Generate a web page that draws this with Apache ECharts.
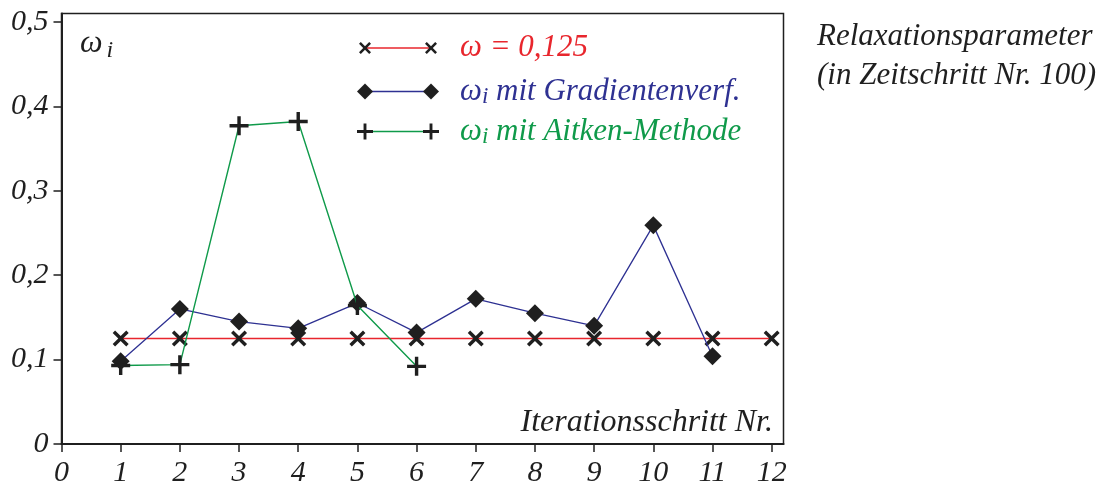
<!DOCTYPE html>
<html>
<head>
<meta charset="utf-8">
<script src="https://cdn.jsdelivr.net/npm/echarts@6/dist/echarts.min.js"></script>
<style>
html,body{margin:0;padding:0;background:#fff;}
#chart{width:1109px;height:488px;}
</style>
</head>
<body>
<div id="chart"></div>
<script>
// ---- data ----
var steps = [1,2,3,4,5,6,7,8,9,10,11,12];
var omegaConst = [0.125,0.125,0.125,0.125,0.125,0.125,0.125,0.125,0.125,0.125,0.125,0.125];
var gradSteps = [1,2,3,4,5,6,7,8,9,10,11];
var omegaGrad = [0.098,0.160,0.145,0.137,0.167,0.132,0.172,0.155,0.140,0.259,0.104];
var aitkenSteps = [1,2,3,4,5,6];
var omegaAitken = [0.093,0.094,0.377,0.382,0.164,0.092];
var xTicks = [0,1,2,3,4,5,6,7,8,9,10,11,12];
var yTicks = [0,0.1,0.2,0.3,0.4,0.5];
var yTickLabels = ['0','0,1','0,2','0,3','0,4','0,5'];
var legendNames = ['ω = 0,125', 'ω{sub|i} mit Gradientenverf.', 'ω{sub|i} mit Aitken-Methode'];
var seriesColors = ['#e8262d', '#2e3192', '#0f9a4a'];

var FONT = '"Liberation Serif","Times New Roman",serif';
var INK = '#1f1f1f';
// marker outlines in a 10x10 box
var XPTS = [[0,1.5],[1.5,0],[5,3.5],[8.5,0],[10,1.5],[6.5,5],[10,8.5],[8.5,10],[5,6.5],[1.5,10],[0,8.5],[3.5,5]];
var PPTS = [[4.1,0],[5.9,0],[5.9,4.1],[10,4.1],[10,5.9],[5.9,5.9],[5.9,10],[4.1,10],[4.1,5.9],[0,5.9],[0,4.1],[4.1,4.1]];
var DPTS = [[5,0],[10,5],[5,10],[0,5]];
var shapes = [XPTS, DPTS, PPTS];
function toPath(pts){ return 'path://M' + pts.map(function(p){return p[0]+','+p[1];}).join(' L') + ' Z'; }
var symbolSizes = [16, 18, 19];
var legendSymSizes = [12, 16, 16];

function zip(xs, ys){ return xs.map(function(x,i){ return [x, ys[i]]; }); }

var chart = echarts.init(document.getElementById('chart'), null, {renderer:'canvas'});

var gridL = 61.5, gridR = 783.5, gridT = 13.5, gridB = 445.3;

// legend graphics
var legendRowsY = [48, 91.5, 131.5];
var legendGraphics = [];
legendNames.forEach(function(name, i){
  var y = legendRowsY[i];
  var x1 = 365, x2 = 431;
  legendGraphics.push({type:'line', shape:{x1:x1, y1:y, x2:x2, y2:y}, style:{stroke:seriesColors[i], lineWidth:1.4}, z:100});
  [x1, x2].forEach(function(cx){
    var s = legendSymSizes[i];
    var pts = shapes[i].map(function(p){ return [cx - s/2 + p[0]*s/10, y - s/2 + p[1]*s/10]; });
    legendGraphics.push({type:'polygon', shape:{points:pts}, style:{fill:INK}, z:101});
  });
  legendGraphics.push({type:'text', x:460, y:y, style:{
    text:name, fill:seriesColors[i], font:'italic 31px ' + FONT, verticalAlign:'middle', align:'left',
    rich:{sub:{fontSize:23, fontStyle:'italic', fontFamily:FONT, fill:seriesColors[i], padding:[10,0,0,0]}}
  }, z:101});
});

var option = {
  animation:false,
  backgroundColor:'#fff',
  grid:{left:gridL, right:1109-gridR, top:gridT, bottom:488-gridB, show:true, borderColor:INK, borderWidth:1.5, backgroundColor:'transparent'},
  xAxis:{
    type:'value', min:0, max:12.2,
    axisLine:{show:true, onZero:false, lineStyle:{color:INK, width:2}},
    axisTick:{show:true, length:8, customValues:xTicks, lineStyle:{color:INK, width:1.5}},
    axisLabel:{customValues:xTicks, margin:14, color:INK, fontFamily:FONT, fontStyle:'italic', fontSize:30},
    splitLine:{show:false}
  },
  yAxis:{
    type:'value', min:0, max:0.51,
    axisLine:{show:true, onZero:false, lineStyle:{color:INK, width:2}},
    axisTick:{show:true, length:8, customValues:yTicks, lineStyle:{color:INK, width:1.5}},
    axisLabel:{customValues:yTicks, margin:13, color:INK, fontFamily:FONT, fontStyle:'italic', fontSize:30,
      formatter:function(v){ var k = yTicks.findIndex(function(t){return Math.abs(t-v)<1e-9;}); return k>=0 ? yTickLabels[k] : ''; }},
    splitLine:{show:false}
  },
  series:[
    {type:'line', name:'const', data:zip(steps, omegaConst), symbol:toPath(shapes[0]), symbolSize:symbolSizes[0],
     lineStyle:{color:seriesColors[0], width:1.5}, itemStyle:{color:INK}, z:2},
    {type:'line', name:'grad', data:zip(gradSteps, omegaGrad), symbol:toPath(shapes[1]), symbolSize:symbolSizes[1],
     lineStyle:{color:seriesColors[1], width:1.3}, itemStyle:{color:INK}, z:3},
    {type:'line', name:'aitken', data:zip(aitkenSteps, omegaAitken), symbol:toPath(shapes[2]), symbolSize:symbolSizes[2],
     lineStyle:{color:seriesColors[2], width:1.4}, itemStyle:{color:INK}, z:4}
  ],
  graphic:[
    {type:'text', x:80, y:44, style:{text:'ω{sub|i}', font:'italic 32px ' + FONT, fill:INK, verticalAlign:'middle',
      rich:{sub:{fontSize:24, fontStyle:'italic', fontFamily:FONT, fill:INK, padding:[14,0,0,4]}}}, z:100},
    {type:'text', x:773, y:423, style:{text:'Iterationsschritt Nr.', font:'italic 32px ' + FONT, fill:INK, align:'right', verticalAlign:'middle'}, z:100},
    {type:'text', x:817, y:37, style:{text:'Relaxationsparameter', font:'italic 31px ' + FONT, fill:INK, align:'left', verticalAlign:'middle'}, z:100},
    {type:'text', x:817, y:76, style:{text:'(in Zeitschritt Nr. 100)', font:'italic 31px ' + FONT, fill:INK, align:'left', verticalAlign:'middle'}, z:100}
  ].concat(legendGraphics)
};
chart.setOption(option);
</script>
</body>
</html>
